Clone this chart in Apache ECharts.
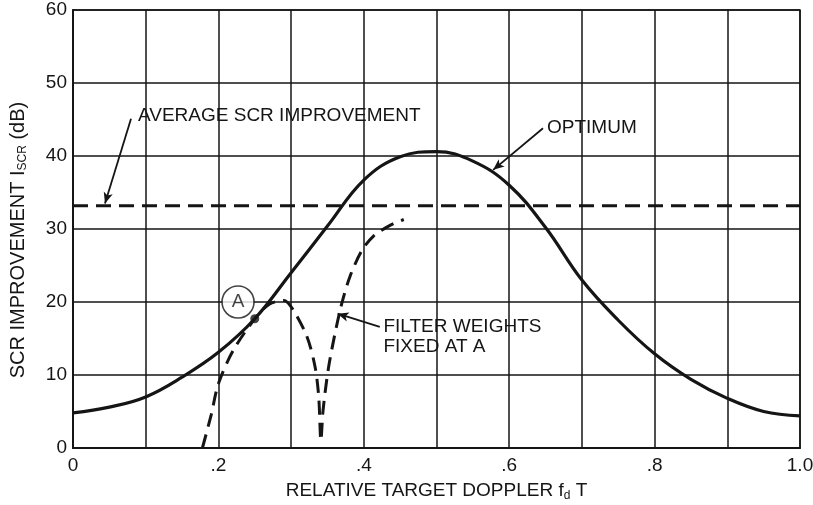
<!DOCTYPE html>
<html>
<head>
<meta charset="utf-8">
<script src="https://cdn.jsdelivr.net/npm/echarts@6/dist/echarts.min.js"></script>
<style>
  html, body { margin: 0; padding: 0; background: #fff; }
  #chart { width: 813px; height: 505px; }
</style>
</head>
<body>
<div id="chart"></div>
<script>
// Optimum SCR improvement versus relative target doppler
const optimumX = [0, 0.05, 0.1, 0.15, 0.2, 0.25, 0.3, 0.35, 0.4, 0.45, 0.5, 0.55, 0.6, 0.65, 0.7, 0.75, 0.8, 0.85, 0.9, 0.95, 1.0];
const optimumY = [4.8, 5.6, 7.0, 9.7, 13.1, 17.7, 24.0, 30.4, 36.7, 39.9, 40.6, 39.3, 36.0, 30.2, 23.0, 17.5, 12.9, 9.4, 6.8, 5.0, 4.4];

// Filter with weights fixed at point A
const fixedX = [0.178, 0.19, 0.2, 0.22, 0.25, 0.27, 0.29, 0.303, 0.322, 0.333, 0.338, 0.341, 0.344, 0.351, 0.36, 0.37, 0.381, 0.397, 0.413, 0.436, 0.455];
const fixedY = [0, 4.5, 8.8, 13.3, 17.7, 19.7, 20.2, 18.9, 15.2, 11.1, 7.0, 1.0, 5.2, 10.7, 15.5, 19.9, 23.5, 27.0, 29.0, 30.5, 31.3];

// Average SCR improvement (constant level)
const averageX = [0, 1];
const averageY = [33.2, 33.2];

// Design point A and its circled tag
const pointA = [0.25, 17.7];
const tagA = [0.227, 20.0];

// Axis ticks
const xTickLabels = { '0': '0', '0.2': '.2', '0.4': '.4', '0.6': '.6', '0.8': '.8', '1': '1.0' };

const INK = '#151515';
const FONT = 'Liberation Sans';

const zip = (xs, ys) => xs.map((x, i) => [x, ys[i]]);

const chart = echarts.init(document.getElementById('chart'), null, { renderer: 'canvas' });

chart.setOption({
  backgroundColor: '#fff',
  animation: false,
  grid: {
    left: 73, right: 13, top: 10, bottom: 57,
    outerBoundsMode: 'none', containLabel: false,
    show: true, borderColor: INK, borderWidth: 1.5
  },
  xAxis: {
    type: 'value', min: 0, max: 1, interval: 0.1,
    axisLine: { show: true, lineStyle: { color: INK, width: 2 } },
    axisTick: { show: false },
    splitLine: { show: true, lineStyle: { color: INK, width: 1.5 } },
    axisLabel: {
      color: INK, fontFamily: FONT, fontSize: 19, margin: 8,
      formatter: v => { const k = String(Math.round(v * 10) / 10); return xTickLabels[k] !== undefined ? xTickLabels[k] : ''; }
    },
    name: 'RELATIVE TARGET DOPPLER f{sub|d} T',
    nameLocation: 'middle', nameGap: 29,
    nameTextStyle: {
      color: INK, fontFamily: FONT, fontSize: 19, lineHeight: 22,
      rich: { sub: { fontSize: 12, fontFamily: FONT, color: INK, verticalAlign: 'bottom', lineHeight: 12 } }
    }
  },
  yAxis: {
    type: 'value', min: 0, max: 60, interval: 10,
    axisLine: { show: true, lineStyle: { color: INK, width: 2 } },
    axisTick: { show: false },
    splitLine: { show: true, lineStyle: { color: INK, width: 1.5 } },
    axisLabel: { color: INK, fontFamily: FONT, fontSize: 19, margin: 6 },
    name: 'SCR IMPROVEMENT I{sub|SCR} (dB)',
    nameLocation: 'middle', nameGap: 44, nameRotate: 90,
    nameTextStyle: {
      color: INK, fontFamily: FONT, fontSize: 20, lineHeight: 22,
      padding: [0, 22, 0, 0],
      rich: { sub: { fontSize: 12, fontFamily: FONT, color: INK, verticalAlign: 'bottom', lineHeight: 12 } }
    }
  },
  series: [
    {
      name: 'OPTIMUM', type: 'line', data: zip(optimumX, optimumY),
      smooth: 0.4, showSymbol: false,
      lineStyle: { color: INK, width: 3.2 }, z: 5,
      markLine: {
        silent: true, symbol: ['none', 'arrow'], symbolSize: [7, 11],
        label: { show: false },
        lineStyle: { color: INK, width: 1.8, type: 'solid' },
        data: [
          [{ coord: [0.6465, 43.8] }, { coord: [0.578, 38.1] }]
        ]
      }
    },
    {
      name: 'FILTER WEIGHTS FIXED AT A', type: 'line', data: zip(fixedX, fixedY),
      smooth: 0.3, showSymbol: false,
      lineStyle: { color: INK, width: 3, type: [14, 8] }, z: 4,
      markLine: {
        silent: true, symbol: ['none', 'arrow'], symbolSize: [7, 11],
        label: { show: false },
        lineStyle: { color: INK, width: 1.8, type: 'solid' },
        data: [
          [{ coord: [0.422, 16.6] }, { coord: [0.364, 18.4] }]
        ]
      }
    },
    {
      name: 'AVERAGE SCR IMPROVEMENT', type: 'line', data: zip(averageX, averageY),
      showSymbol: false,
      lineStyle: { color: INK, width: 3, type: [15, 8] }, z: 4,
      markLine: {
        silent: true, symbol: ['none', 'arrow'], symbolSize: [7, 11],
        label: { show: false },
        lineStyle: { color: INK, width: 1.8, type: 'solid' },
        data: [
          [{ coord: [0.0798, 45.1] }, { coord: [0.044, 33.5] }]
        ]
      }
    },
    {
      name: 'A tag', type: 'scatter', data: [tagA],
      symbol: 'circle', symbolSize: 32, z: 6,
      itemStyle: { color: '#fff', borderColor: INK, borderWidth: 1.6 },
      label: { show: true, position: 'inside', formatter: 'A', color: INK, fontFamily: FONT, fontSize: 19 }
    },
    {
      name: 'A', type: 'scatter', data: [pointA],
      symbol: 'circle', symbolSize: 9, z: 7,
      itemStyle: { color: INK }
    }
  ]
});

// Annotation text anchored in data coordinates
const notes = [
  { text: 'AVERAGE SCR IMPROVEMENT', at: [0.0894, 45.5] },
  { text: 'OPTIMUM', at: [0.652, 43.8] },
  { text: 'FILTER WEIGHTS', at: [0.427, 16.6] },
  { text: 'FIXED AT A', at: [0.427, 13.8] }
];

chart.setOption({
  graphic: notes.map(n => {
    const p = chart.convertToPixel({ gridIndex: 0 }, n.at);
    return {
      type: 'text', x: p[0], y: p[1], z: 10,
      style: { text: n.text, fill: INK, font: '19px "Liberation Sans"', textAlign: 'left', textVerticalAlign: 'middle' }
    };
  })
});
</script>
</body>
</html>
